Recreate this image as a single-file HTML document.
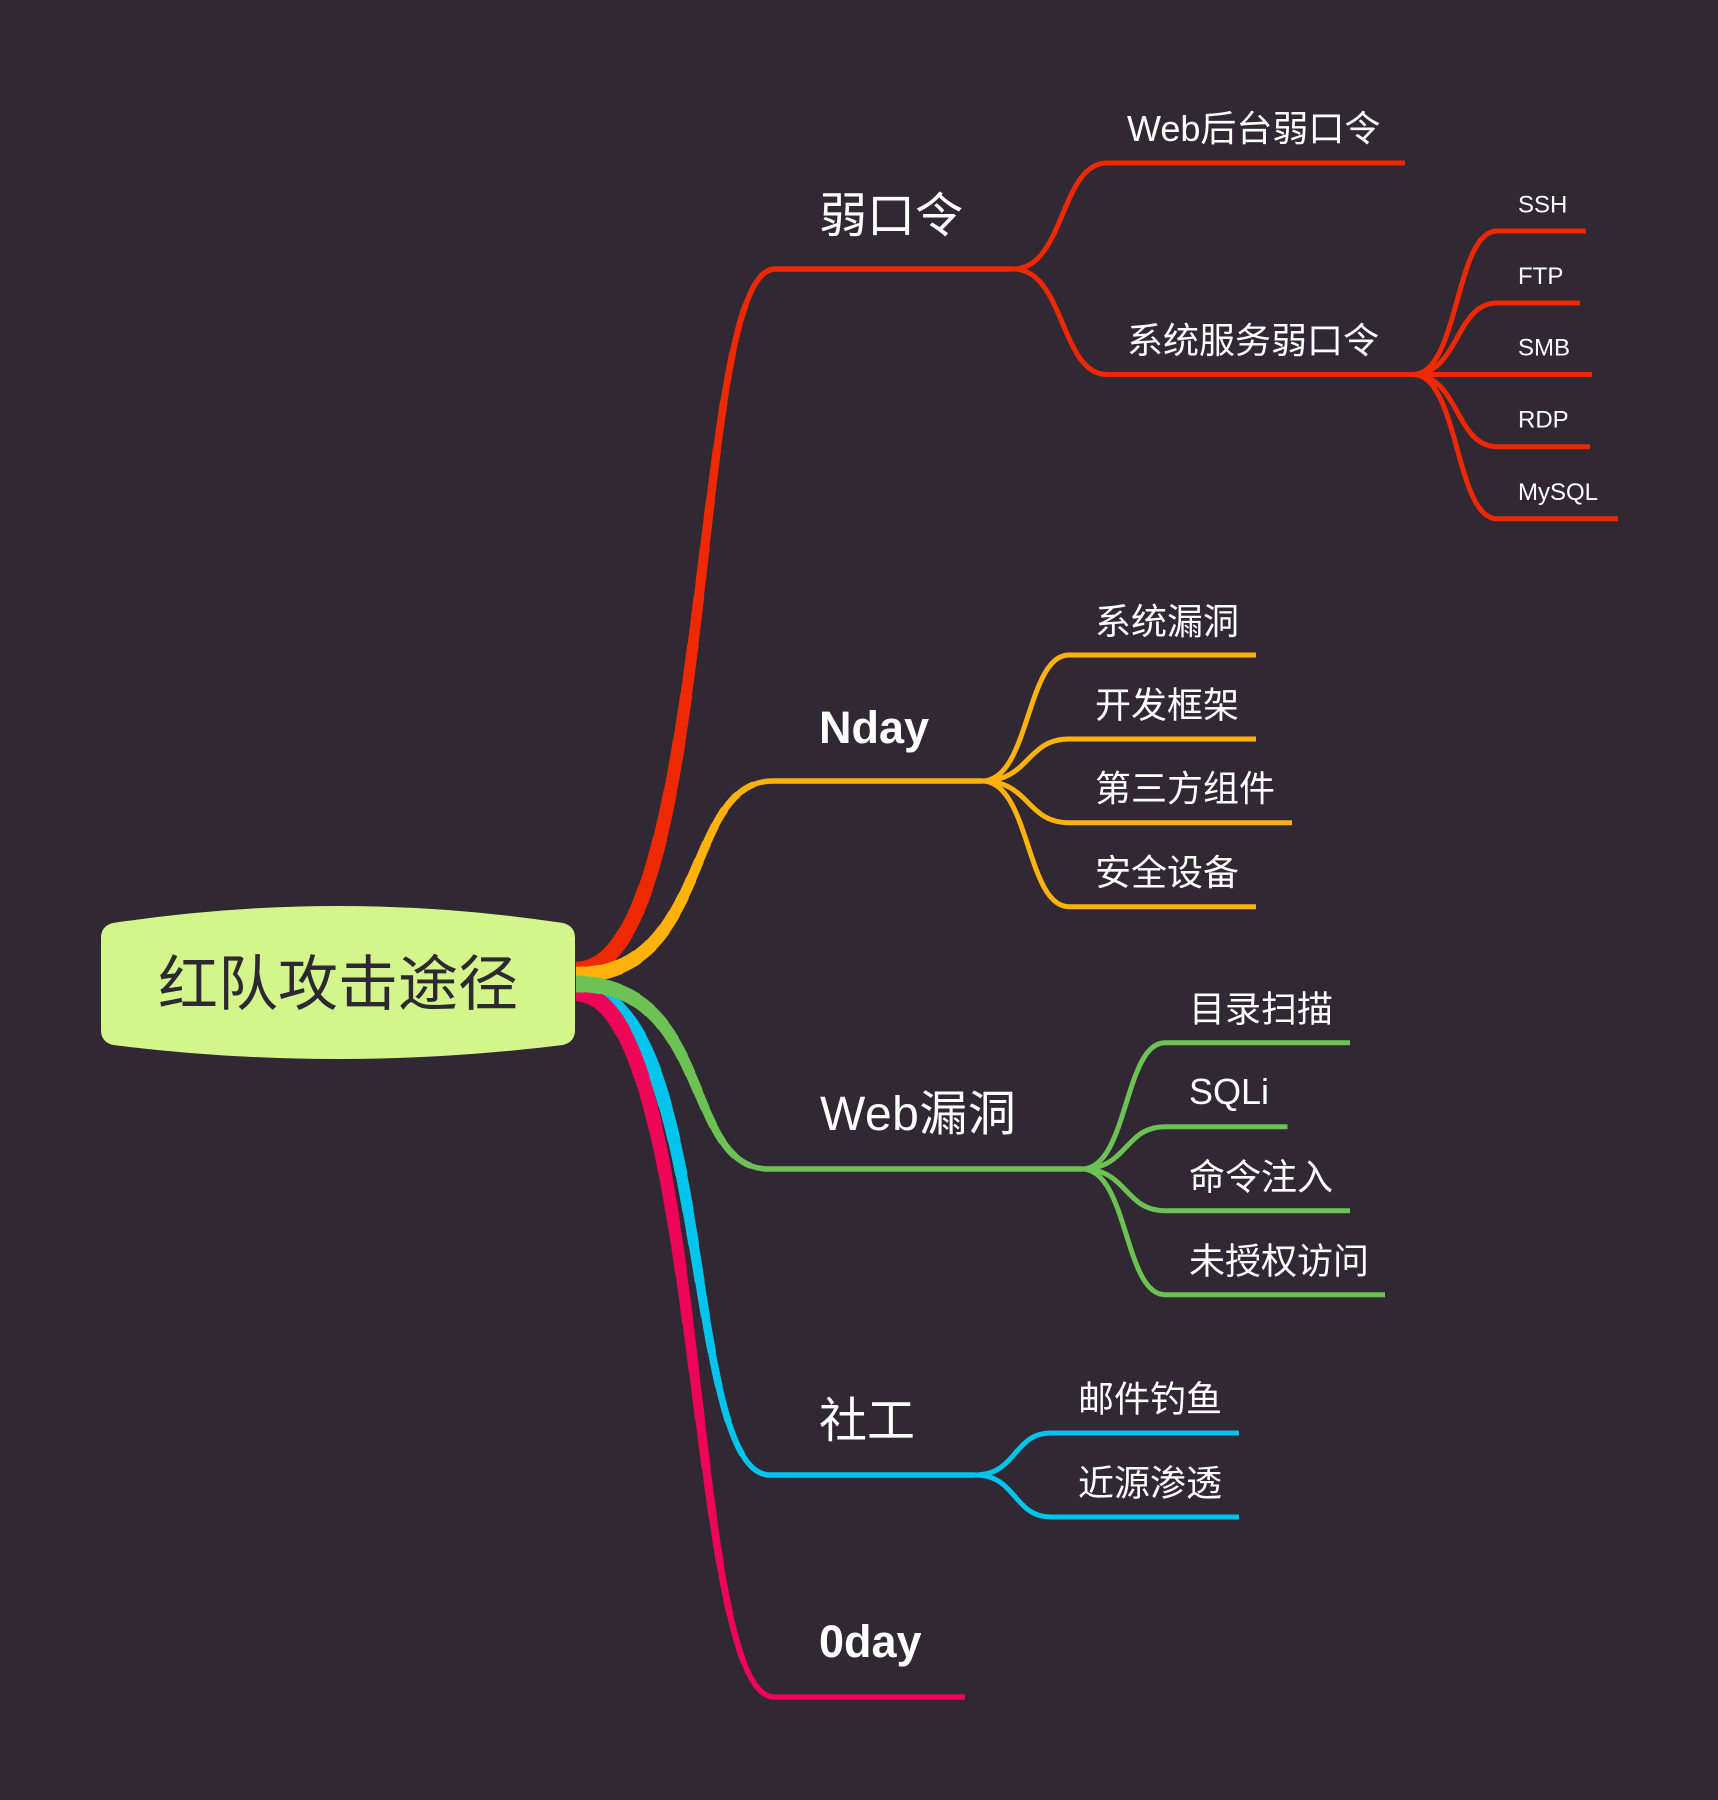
<!DOCTYPE html>
<html>
<head>
<meta charset="utf-8">
<style>
  html,body{margin:0;padding:0;background:#302934;}
  svg{display:block;}
  .t{font-family:"Liberation Sans","Noto Sans CJK SC",sans-serif;fill:#ffffff;}
  .s0{stroke-width:5.5;}
  .s1{stroke-width:6.25;stroke-dasharray:93.5 300;}
  .s2{stroke-width:7;stroke-dasharray:87 300;}
  .s3{stroke-width:7.75;stroke-dasharray:80.4 300;}
  .s4{stroke-width:8.5;stroke-dasharray:74 300;}
  .s5{stroke-width:9.25;stroke-dasharray:67.4 300;}
  .s6{stroke-width:10;stroke-dasharray:61 300;}
  .s7{stroke-width:10.75;stroke-dasharray:54.3 300;}
  .s8{stroke-width:11.5;stroke-dasharray:48 300;}
  .s9{stroke-width:12.25;stroke-dasharray:41.3 300;}
  .s10{stroke-width:13;stroke-dasharray:35 300;}
  .s11{stroke-width:13.75;stroke-dasharray:28.3 300;}
  .s12{stroke-width:14.5;stroke-dasharray:22 300;}
  .s13{stroke-width:15.25;stroke-dasharray:15.2 300;}
  .s14{stroke-width:16;stroke-dasharray:8.7 300;}
  .s15{stroke-width:16.75;stroke-dasharray:3 300;}
</style>
</head>
<body>
<svg width="1718" height="1800" viewBox="0 0 1718 1800" xmlns="http://www.w3.org/2000/svg" xmlns:xlink="http://www.w3.org/1999/xlink">
  <defs>
    <path id="pc" d="M576,990 C714,990 682,1475 770,1475" pathLength="100"/>
    <path id="pp" d="M576,993 C706,993 686,1697 774,1697" pathLength="100"/>
    <path id="pr" d="M576,970 C716,970 690,269 775,269" pathLength="100"/>
    <path id="po" d="M576,975 C712,975 683,781 773,781" pathLength="100"/>
    <path id="pg" d="M576,984 C714,984 682,1169 769,1169" pathLength="100"/>
  </defs>
  <rect x="0" y="0" width="1718" height="1800" fill="#302934"/>

  <!-- ===== Main branch curves (tapered via stacked dashes) ===== -->
  <g fill="none" stroke-linecap="butt" stroke-linejoin="round">
    <g stroke="#00c4eb">
      <use href="#pc" xlink:href="#pc" class="s0"/>
      <use href="#pc" xlink:href="#pc" class="s1"/>
      <use href="#pc" xlink:href="#pc" class="s2"/>
      <use href="#pc" xlink:href="#pc" class="s3"/>
      <use href="#pc" xlink:href="#pc" class="s4"/>
      <use href="#pc" xlink:href="#pc" class="s5"/>
      <use href="#pc" xlink:href="#pc" class="s6"/>
      <use href="#pc" xlink:href="#pc" class="s7"/>
      <use href="#pc" xlink:href="#pc" class="s8"/>
      <use href="#pc" xlink:href="#pc" class="s9"/>
      <use href="#pc" xlink:href="#pc" class="s10"/>
      <use href="#pc" xlink:href="#pc" class="s11"/>
      <use href="#pc" xlink:href="#pc" class="s12"/>
      <use href="#pc" xlink:href="#pc" class="s13"/>
      <use href="#pc" xlink:href="#pc" class="s14"/>
      <use href="#pc" xlink:href="#pc" class="s15"/>
      <path d="M770,1475 L975,1475" stroke-width="5.5"/>
    </g>
    <g stroke="#ee0556">
      <use href="#pp" xlink:href="#pp" class="s0"/>
      <use href="#pp" xlink:href="#pp" class="s1"/>
      <use href="#pp" xlink:href="#pp" class="s2"/>
      <use href="#pp" xlink:href="#pp" class="s3"/>
      <use href="#pp" xlink:href="#pp" class="s4"/>
      <use href="#pp" xlink:href="#pp" class="s5"/>
      <use href="#pp" xlink:href="#pp" class="s6"/>
      <use href="#pp" xlink:href="#pp" class="s7"/>
      <use href="#pp" xlink:href="#pp" class="s8"/>
      <use href="#pp" xlink:href="#pp" class="s9"/>
      <use href="#pp" xlink:href="#pp" class="s10"/>
      <use href="#pp" xlink:href="#pp" class="s11"/>
      <use href="#pp" xlink:href="#pp" class="s12"/>
      <use href="#pp" xlink:href="#pp" class="s13"/>
      <use href="#pp" xlink:href="#pp" class="s14"/>
      <use href="#pp" xlink:href="#pp" class="s15"/>
      <path d="M774,1697 L965,1697" stroke-width="5.5"/>
    </g>
    <g stroke="#ee2800">
      <use href="#pr" xlink:href="#pr" class="s0"/>
      <use href="#pr" xlink:href="#pr" class="s1"/>
      <use href="#pr" xlink:href="#pr" class="s2"/>
      <use href="#pr" xlink:href="#pr" class="s3"/>
      <use href="#pr" xlink:href="#pr" class="s4"/>
      <use href="#pr" xlink:href="#pr" class="s5"/>
      <use href="#pr" xlink:href="#pr" class="s6"/>
      <use href="#pr" xlink:href="#pr" class="s7"/>
      <use href="#pr" xlink:href="#pr" class="s8"/>
      <use href="#pr" xlink:href="#pr" class="s9"/>
      <use href="#pr" xlink:href="#pr" class="s10"/>
      <use href="#pr" xlink:href="#pr" class="s11"/>
      <use href="#pr" xlink:href="#pr" class="s12"/>
      <use href="#pr" xlink:href="#pr" class="s13"/>
      <use href="#pr" xlink:href="#pr" class="s14"/>
      <use href="#pr" xlink:href="#pr" class="s15"/>
      <path d="M775,269 L1013,269" stroke-width="5.5"/>
    </g>
    <g stroke="#ffb20c">
      <use href="#po" xlink:href="#po" class="s0"/>
      <use href="#po" xlink:href="#po" class="s1"/>
      <use href="#po" xlink:href="#po" class="s2"/>
      <use href="#po" xlink:href="#po" class="s3"/>
      <use href="#po" xlink:href="#po" class="s4"/>
      <use href="#po" xlink:href="#po" class="s5"/>
      <use href="#po" xlink:href="#po" class="s6"/>
      <use href="#po" xlink:href="#po" class="s7"/>
      <use href="#po" xlink:href="#po" class="s8"/>
      <use href="#po" xlink:href="#po" class="s9"/>
      <use href="#po" xlink:href="#po" class="s10"/>
      <use href="#po" xlink:href="#po" class="s11"/>
      <use href="#po" xlink:href="#po" class="s12"/>
      <use href="#po" xlink:href="#po" class="s13"/>
      <use href="#po" xlink:href="#po" class="s14"/>
      <use href="#po" xlink:href="#po" class="s15"/>
      <path d="M773,781 L982,781" stroke-width="5.5"/>
    </g>
    <g stroke="#6cc253">
      <use href="#pg" xlink:href="#pg" class="s0"/>
      <use href="#pg" xlink:href="#pg" class="s1"/>
      <use href="#pg" xlink:href="#pg" class="s2"/>
      <use href="#pg" xlink:href="#pg" class="s3"/>
      <use href="#pg" xlink:href="#pg" class="s4"/>
      <use href="#pg" xlink:href="#pg" class="s5"/>
      <use href="#pg" xlink:href="#pg" class="s6"/>
      <use href="#pg" xlink:href="#pg" class="s7"/>
      <use href="#pg" xlink:href="#pg" class="s8"/>
      <use href="#pg" xlink:href="#pg" class="s9"/>
      <use href="#pg" xlink:href="#pg" class="s10"/>
      <use href="#pg" xlink:href="#pg" class="s11"/>
      <use href="#pg" xlink:href="#pg" class="s12"/>
      <use href="#pg" xlink:href="#pg" class="s13"/>
      <use href="#pg" xlink:href="#pg" class="s14"/>
      <use href="#pg" xlink:href="#pg" class="s15"/>
      <path d="M769,1169 L1082,1169" stroke-width="5.5"/>
    </g>
  </g>

  <!-- ===== Sub branches ===== -->
  <g fill="none" stroke-width="5" stroke-linecap="butt" stroke-linejoin="round">
    <g stroke="#ee2800">
      <path d="M1013,269 C1065,269 1060,163 1107,163 L1405,163"/>
      <path d="M1013,269 C1065,269 1060,374.5 1107,374.5 L1413,374.5"/>
      <path d="M1413,374.5 C1459,374.5 1455,231 1497,231 L1586,231"/>
      <path d="M1413,374.5 C1459,374.5 1455,303 1497,303 L1580,303"/>
      <path d="M1408,374.5 L1592,374.5"/>
      <path d="M1413,374.5 C1459,374.5 1455,446.7 1497,446.7 L1590,446.7"/>
      <path d="M1413,374.5 C1459,374.5 1455,518.7 1497,518.7 L1618,518.7"/>
    </g>
    <g stroke="#ffb20c">
      <path d="M982,781 C1030,781 1026,655 1069,655 L1256,655"/>
      <path d="M982,781 C1030,781 1026,739 1069,739 L1256,739"/>
      <path d="M982,781 C1030,781 1026,822.7 1069,822.7 L1292,822.7"/>
      <path d="M982,781 C1030,781 1026,906.7 1069,906.7 L1256,906.7"/>
    </g>
    <g stroke="#6cc253">
      <path d="M1082,1169 C1128,1169 1124,1042.7 1165,1042.7 L1350,1042.7"/>
      <path d="M1082,1169 C1128,1169 1124,1126.7 1165,1126.7 L1287.5,1126.7"/>
      <path d="M1082,1169 C1128,1169 1124,1210.7 1165,1210.7 L1350,1210.7"/>
      <path d="M1082,1169 C1128,1169 1124,1294.7 1165,1294.7 L1385,1294.7"/>
    </g>
    <g stroke="#00c4eb">
      <path d="M975,1475 C1017,1475 1013,1433 1051,1433 L1239,1433"/>
      <path d="M975,1475 C1017,1475 1013,1517 1051,1517 L1239,1517"/>
    </g>
  </g>

  <!-- ===== Root node ===== -->
  <path d="M101,938 Q101,926 113,923 Q338,889 563,923 Q575,926 575,938 L575,1030 Q575,1042 563,1045 Q338,1073 113,1045 Q101,1042 101,1030 Z" fill="#d3f58a"/>
  <text x="338" y="1005" text-anchor="middle" font-family="'Liberation Sans','Noto Sans CJK SC',sans-serif" font-size="60" fill="#2d2832">红队攻击途径</text>

  <!-- ===== Labels ===== -->
  <g class="t">
    <text class="t" x="819" y="232" font-size="48">弱口令</text>
    <text class="t" x="819" y="743" font-size="45" font-weight="bold">Nday</text>
    <text class="t" x="820" y="1130" font-size="48" letter-spacing="0.5">Web漏洞</text>
    <text class="t" x="819" y="1437" font-size="48">社工</text>
    <text class="t" x="819" y="1657" font-size="45" font-weight="bold">0day</text>

    <text class="t" x="1127" y="141" font-size="36">Web后台弱口令</text>
    <text class="t" x="1127" y="353" font-size="36">系统服务弱口令</text>

    <text class="t" x="1518" y="212.5" font-size="24">SSH</text>
    <text class="t" x="1518" y="284" font-size="24">FTP</text>
    <text class="t" x="1518" y="355.5" font-size="24">SMB</text>
    <text class="t" x="1518" y="427.5" font-size="24">RDP</text>
    <text class="t" x="1518" y="500" font-size="24">MySQL</text>

    <text class="t" x="1095" y="634" font-size="36">系统漏洞</text>
    <text class="t" x="1095" y="717.5" font-size="36">开发框架</text>
    <text class="t" x="1095" y="801" font-size="36">第三方组件</text>
    <text class="t" x="1095" y="885" font-size="36">安全设备</text>

    <text class="t" x="1189" y="1021.5" font-size="36">目录扫描</text>
    <text class="t" x="1189" y="1104" font-size="36">SQLi</text>
    <text class="t" x="1189" y="1189.5" font-size="36">命令注入</text>
    <text class="t" x="1189" y="1273.5" font-size="36">未授权访问</text>

    <text class="t" x="1078" y="1411.5" font-size="36">邮件钓鱼</text>
    <text class="t" x="1078" y="1495.5" font-size="36">近源渗透</text>
  </g>
</svg>
</body>
</html>
